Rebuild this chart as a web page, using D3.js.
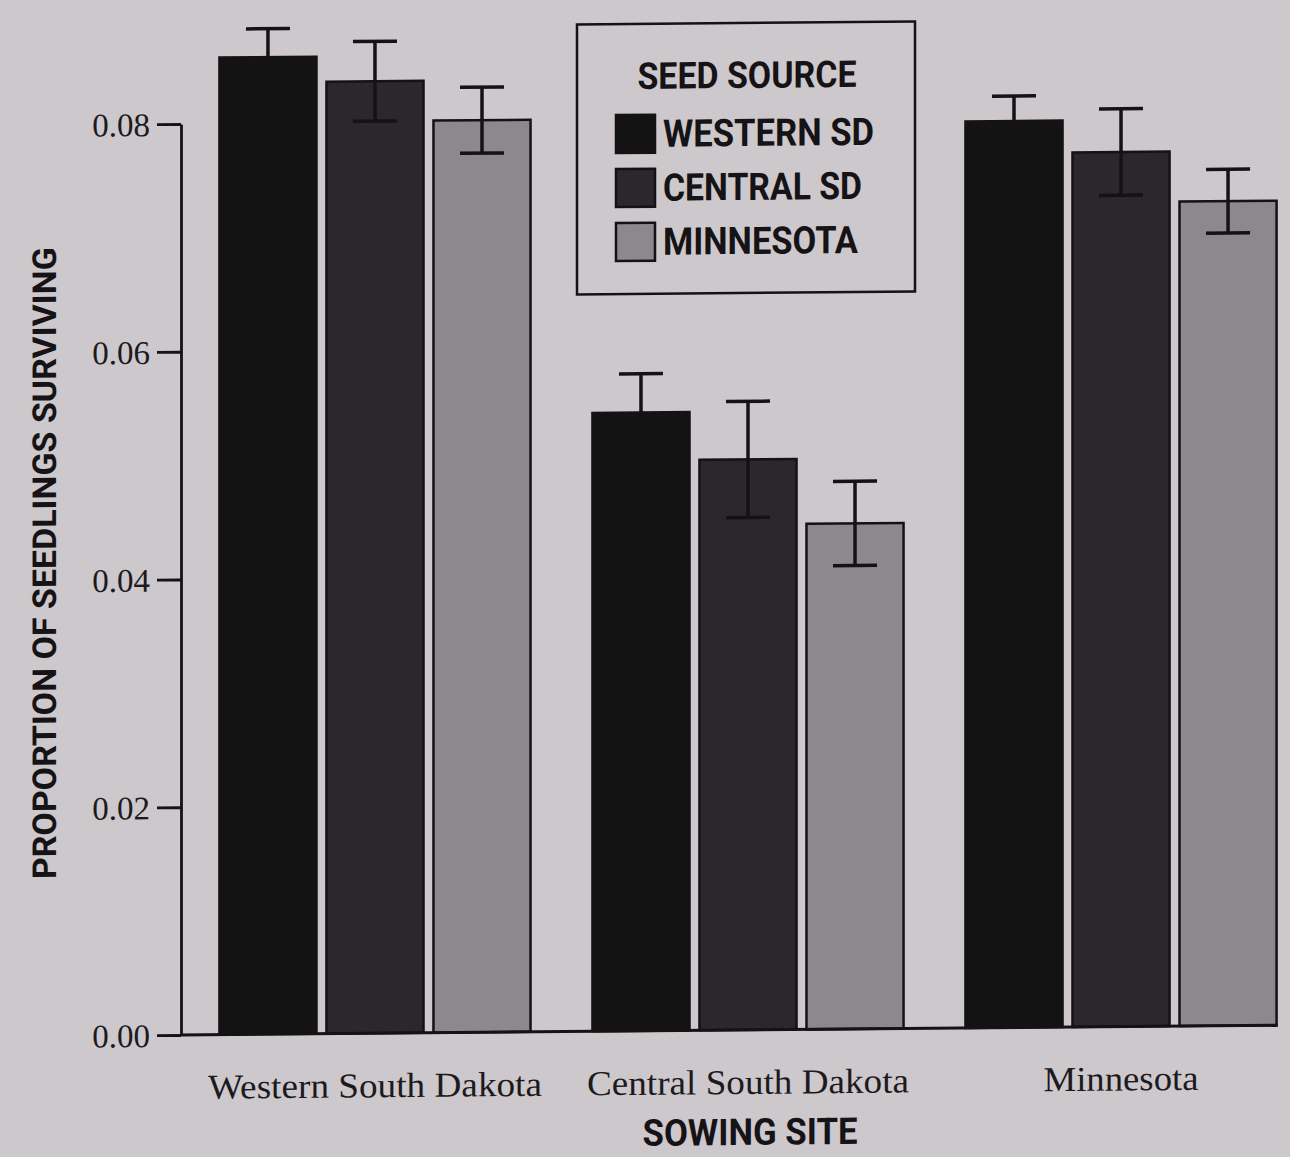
<!DOCTYPE html>
<html>
<head>
<meta charset="utf-8">
<script src="https://cdn.jsdelivr.net/npm/d3@7"></script>
<style>
  html, body { margin: 0; padding: 0; background: #cdc8cc; }
  svg { display: block; }
</style>
</head>
<body>
<svg id="chart" width="1290" height="1157"></svg>
<script>
// Sowing sites (x-axis groups) and seed sources (bars within each group)
const sites = ["Western South Dakota", "Central South Dakota", "Minnesota"];
const sources = ["WESTERN SD", "CENTRAL SD", "MINNESOTA"];

// Mean proportion of seedlings surviving, one array per seed source (ordered by site)
const westernSD = [0.0858, 0.0543, 0.0796];
const centralSD = [0.0836, 0.0501, 0.0768];
const minnesota = [0.0801, 0.0444, 0.0724];

// Standard errors, same ordering
const westernSE = [0.0025, 0.0034, 0.0022];
const centralSE = [0.0035, 0.0051, 0.0038];
const minnesotaSE = [0.0029, 0.0037, 0.0028];

const yTicks = [0.00, 0.02, 0.04, 0.06, 0.08];

const means = [westernSD, centralSD, minnesota];
const errors = [westernSE, centralSE, minnesotaSE];
const fills = ["#141314", "#2a282a", "#8d888c"];

const rows = [];
sites.forEach((site, i) => {
  sources.forEach((src, j) => {
    rows.push({ site, src, j, value: means[j][i], se: errors[j][i] });
  });
});

const svg = d3.select("#chart");
const axisX = 181, baseY = 1035;

// slight vertical shear of the whole figure
const root = svg.append("g")
  .attr("transform", `translate(${axisX},${baseY}) matrix(1,-0.009,0,1,0,0) translate(${-axisX},${-baseY})`);

const y = d3.scaleLinear().domain([0, 0.08]).range([baseY, 124]);

const x0 = d3.scaleBand().domain(sites).range([axisX + 1.5, 1313.5])
  .paddingInner(0.166).paddingOuter(0.099);
const x1 = d3.scaleBand().domain(sources).range([0, x0.bandwidth()]).paddingInner(0.093);

const ink = "#141214";

// bars
const bars = root.append("g").selectAll("g.bar").data(rows).join("g").attr("class", "bar");
bars.append("rect")
  .attr("x", d => x0(d.site) + x1(d.src))
  .attr("y", d => y(d.value))
  .attr("width", x1.bandwidth())
  .attr("height", d => y(0) - y(d.value))
  .attr("fill", d => fills[d.j])
  .attr("stroke", ink)
  .attr("stroke-width", 2.5);

// error bars
const capW = 44;
bars.each(function(d) {
  const g = d3.select(this);
  const cx = x0(d.site) + x1(d.src) + x1.bandwidth() / 2;
  const hi = y(d.value + d.se), lo = y(d.value - d.se);
  g.append("line").attr("x1", cx).attr("x2", cx).attr("y1", hi).attr("y2", lo)
    .attr("stroke", ink).attr("stroke-width", 3.5);
  [hi, lo].forEach(v => {
    g.append("line").attr("x1", cx - capW / 2).attr("x2", cx + capW / 2)
      .attr("y1", v).attr("y2", v).attr("stroke", ink).attr("stroke-width", 3.5);
  });
});

// x baseline
const lastRight = x0(sites[2]) + x1(sources[2]) + x1.bandwidth();
root.append("line")
  .attr("x1", axisX).attr("x2", lastRight + 1)
  .attr("y1", baseY).attr("y2", baseY)
  .attr("stroke", ink).attr("stroke-width", 3);

// y axis
const yAxis = root.append("g")
  .attr("transform", `translate(${axisX},0)`)
  .call(d3.axisLeft(y).tickValues(yTicks).tickFormat(d3.format(".2f"))
    .tickSize(24).tickSizeOuter(0).tickPadding(7));
yAxis.select(".domain").attr("stroke", ink).attr("stroke-width", 2.8);
yAxis.selectAll(".tick line").attr("stroke", ink).attr("stroke-width", 2.8);
yAxis.selectAll(".tick text")
  .attr("fill", "#1c1a1c")
  .style("font-family", "'Liberation Serif', 'DejaVu Serif', serif")
  .style("font-size", "33px")
  .attr("dy", "0.34em");

// category labels
const siteWidths = [334, 322, 155];
root.append("g").selectAll("text").data(sites).join("text")
  .attr("x", d => x0(d) + x0.bandwidth() / 2)
  .attr("y", 1099)
  .attr("text-anchor", "middle")
  .attr("fill", "#1c1a1c")
  .attr("textLength", (d, i) => siteWidths[i])
  .attr("lengthAdjust", "spacingAndGlyphs")
  .style("font-family", "'Liberation Serif', 'DejaVu Serif', serif")
  .style("font-size", "35px")
  .text(d => d);

const boldFont = "Roboto, 'DejaVu Sans Condensed', sans-serif";

function boldText(sel, size, len) {
  return sel.attr("fill", "#151315")
    .attr("textLength", len)
    .attr("lengthAdjust", "spacingAndGlyphs")
    .style("font-family", boldFont).style("font-weight", "bold")
    .style("font-size", size + "px");
}

// x axis title
boldText(root.append("text")
  .attr("x", 750).attr("y", 1150)
  .attr("text-anchor", "middle"), 37, 215)
  .text("SOWING SITE");

// y axis title
boldText(root.append("text")
  .attr("transform", "translate(56,562) rotate(-90)")
  .attr("text-anchor", "middle"), 33, 632)
  .text("PROPORTION OF SEEDLINGS SURVIVING");

// legend
const legend = root.append("g");
legend.append("rect")
  .attr("x", 577).attr("y", 28).attr("width", 338).attr("height", 270)
  .attr("fill", "none").attr("stroke", ink).attr("stroke-width", 2.5);
boldText(legend.append("text")
  .attr("x", 747).attr("y", 93)
  .attr("text-anchor", "middle"), 37, 219)
  .text("SEED SOURCE");
const itemWidths = [211, 199, 195];
const items = legend.selectAll("g.item").data(sources).join("g").attr("class", "item")
  .attr("transform", (d, i) => `translate(616,${119 + i * 54})`);
items.append("rect")
  .attr("width", 39).attr("height", 38)
  .attr("fill", (d, i) => fills[i])
  .attr("stroke", ink).attr("stroke-width", 2.5);
items.append("text")
  .attr("x", 47).attr("y", 32)
  .attr("fill", "#151315")
  .attr("textLength", (d, i) => itemWidths[i])
  .attr("lengthAdjust", "spacingAndGlyphs")
  .style("font-family", boldFont).style("font-weight", "bold")
  .style("font-size", "38px")
  .text(d => d);
</script>
</body>
</html>
